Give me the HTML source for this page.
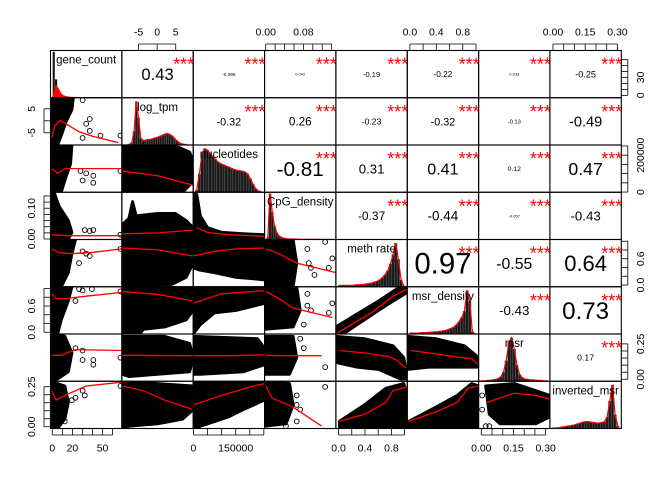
<!DOCTYPE html>
<html><head><meta charset="utf-8">
<style>
html,body{margin:0;padding:0;background:#fff;}
svg{display:block;font-family:"Liberation Sans",Arial,sans-serif;}
</style></head>
<body>
<svg id="chart" width="672" height="480" viewBox="0 0 672 480" xmlns="http://www.w3.org/2000/svg"></svg>
<script>
const vars = ['gene_count','log_tpm','nucleotides','CpG_density','meth rate','msr_density','msr','inverted_msr'];
const corrText = [
 ['0.43','-0.096','0.042','-0.19','-0.22','0.033','-0.25'],
 ['-0.32','0.26','-0.23','-0.32','-0.13','-0.49'],
 ['-0.81','0.31','0.41','0.12','0.47'],
 ['-0.37','-0.44','-0.057','-0.43'],
 ['0.97','-0.55','0.64'],
 ['-0.43','0.73'],
 ['0.17']
];
const xDomain = [[-1.8,69.2],[-9.5,9.7],[-1000,252500],[-0.0025,0.149],[-0.04,1.04],[-0.04,1.04],[-0.0126,0.32],[-0.014,0.318]];
const yDomain = [[-4,75],[-10.1,9.6],[-1000,255000],[-0.0016,0.152],[-0.04,1.04],[-0.04,1.04],[-0.014,0.32],[-0.011,0.284]];
const hist = [
 [1,0.4,0.15,0.07,0.04,0.025,0.015,0.01,0.01,0.008,0.006,0.005,0.004,0.004,0.003,0.003,0.002,0.002,0.002,0.002,0.001,0.001,0.001,0.001,0.001,0.001,0.001,0.001,0.001,0.001],
 [0,0,0.02,0.05,0.3,0.95,0.6,0.15,0.1,0.1,0.12,0.12,0.13,0.15,0.16,0.18,0.2,0.22,0.24,0.25,0.23,0.2,0.15,0.1,0.06,0.03,0.02,0.01,0,0],
 [0.05,0.4,0.85,0.95,0.92,0.85,0.78,0.72,0.66,0.62,0.6,0.57,0.55,0.52,0.5,0.48,0.47,0.46,0.44,0.4,0.3,0.18,0.08,0.03,0.01],
 [0.05,1.0,0.6,0.3,0.15,0.08,0.05,0.03,0.02,0.015,0.012,0.01,0.01,0.008,0.006,0.005,0.005,0.004,0.004,0.003,0.003,0.002,0.002,0.002,0.001,0.001,0.001,0.001,0.001,0.001],
 [0.03,0.03,0.03,0.03,0.03,0.03,0.04,0.04,0.05,0.05,0.06,0.07,0.08,0.1,0.12,0.15,0.2,0.26,0.35,0.5,0.7,0.95,0.6,0.15,0.02],
 [0.02,0.02,0.02,0.02,0.03,0.03,0.03,0.04,0.04,0.05,0.05,0.06,0.07,0.08,0.1,0.12,0.15,0.2,0.27,0.36,0.5,0.95,0.7,0.05,0],
 [0.01,0.01,0.02,0.02,0.03,0.04,0.06,0.1,0.2,0.45,0.85,0.95,0.7,0.35,0.15,0.08,0.05,0.04,0.03,0.03,0.02,0.02,0.02,0.01,0.01],
 [0.01,0.01,0.02,0.03,0.04,0.05,0.06,0.07,0.08,0.1,0.12,0.14,0.15,0.15,0.14,0.13,0.12,0.12,0.13,0.15,0.25,0.6,0.95,0.3,0.05]
];
const geneDensity = [0.1,0.25,0.2,0.1,0.05,0.03,0.02,0.01,0.01,0.005,0.005,0.004,0.003,0.003,0.002,0.002,0.002,0.001,0.001,0.001,0.001,0.001,0.001,0.001,0.001,0.001,0.001,0.001,0.001,0.001];
const blobs = {
 '1-0':[[0,0],[0.32,0],[0.3,0.25],[0.22,0.5],[0.15,0.8],[0.1,1],[0,1]],
 '2-0':[[0,0],[0.3,0],[0.28,0.4],[0.2,0.75],[0.15,1],[0,1]],
 '2-1':[[0,0],[0.55,0],[0.8,0.05],[0.95,0.15],[1,0.35],[0.98,0.8],[0.85,1],[0,1]],
 '3-0':[[0,0],[0.05,0],[0.12,0.3],[0.25,0.6],[0.3,0.85],[0.25,1],[0,1]],
 '3-1':[[0,1],[0,0.7],[0.1,0.55],[0.15,0.2],[0.2,0.5],[0.5,0.45],[0.75,0.45],[0.9,0.6],[1,0.75],[1,1]],
 '3-2':[[0,1],[0,0],[0.05,0.05],[0.1,0.5],[0.2,0.75],[0.4,0.85],[0.7,0.88],[1,0.9],[1,1]],
 '4-0':[[0,0],[0.35,0],[0.3,0.3],[0.25,0.7],[0.15,1],[0,1]],
 '4-1':[[0,0],[1,0],[1,0.5],[0.9,0.8],[0.7,0.95],[0,1]],
 '4-2':[[0,0],[1,0],[1,0.85],[0.6,0.8],[0.3,0.7],[0.1,0.65],[0,0.6]],
 '4-3':[[0,0],[0.4,0],[0.45,0.5],[0.4,1],[0,1]],
 '5-0':[[0,0],[0.3,0],[0.25,0.3],[0.15,0.7],[0.1,1],[0,1]],
 '5-1':[[0,0],[1,0],[1,0.5],[0.9,0.7],[0.6,0.85],[0.3,0.9],[0.25,1],[0,1]],
 '5-2':[[0,0],[1,0],[1,0.35],[0.6,0.5],[0.3,0.55],[0.1,0.8],[0,1]],
 '5-3':[[0,0],[0.45,0],[0.5,0.5],[0.4,0.85],[0,0.9]],
 '5-4':[[0,1],[0,0.85],[0.6,0.3],[0.85,0.05],[1,0],[1,0.12],[0.7,0.4],[0.2,0.9],[0.1,1]],
 '6-0':[[0,0],[0.2,0.05],[0.3,0.4],[0.25,0.8],[0.1,0.95],[0,1]],
 '6-1':[[0,0.05],[0.6,0.05],[0.95,0.2],[1,0.5],[0.95,0.8],[0.5,0.85],[0.1,0.9],[0,0.85]],
 '6-2':[[0,0.05],[0.9,0.1],[1,0.3],[1,0.65],[0.7,0.8],[0.1,0.85],[0,0.85]],
 '6-3':[[0,0.05],[0.4,0.05],[0.45,0.5],[0.35,0.85],[0,0.85]],
 '6-4':[[0,0.05],[0.4,0.1],[0.8,0.25],[0.95,0.5],[1,0.95],[0.9,0.95],[0.6,0.75],[0.3,0.7],[0,0.6]],
 '6-5':[[0,0.05],[0.4,0.1],[0.8,0.25],[1,0.5],[1,0.7],[0.7,0.7],[0.3,0.7],[0,0.75]],
 '7-0':[[0,0],[0.2,0.1],[0.25,0.45],[0.2,0.8],[0.1,1],[0,1]],
 '7-1':[[0,0],[1,0.1],[1,0.6],[0.85,0.8],[0.5,0.9],[0.1,0.95],[0,1]],
 '7-2':[[0,0],[1,0],[1,0.4],[0.7,0.6],[0.5,0.75],[0.2,0.9],[0,1]],
 '7-3':[[0,0],[0.35,0.05],[0.4,0.5],[0.3,0.9],[0,0.95]],
 '7-4':[[0.05,1],[0.05,0.85],[0.4,0.5],[0.7,0.15],[0.95,0.05],[1,0.3],[1,1]],
 '7-5':[[0.02,1],[0.02,0.85],[0.4,0.55],[0.7,0.3],[0.9,0.05],[1,0.1],[1,1]],
 '7-6':[[0.1,0.1],[0.5,0.05],[1,0.3],[1,0.75],[0.8,0.9],[0.3,0.9],[0.15,0.7]]
};
const outliers = {
 '1-0':[[0.45,0.05],[0.55,0.45],[0.5,0.55],[0.55,0.7],[0.7,0.8],[0.45,0.85],[0.98,0.8]],
 '2-0':[[0.42,0.55],[0.5,0.6],[0.45,0.75],[0.6,0.65],[0.6,0.8],[0.98,0.55]],
 '3-0':[[0.48,0.8],[0.55,0.82],[0.6,0.8],[0.98,0.9]],
 '4-0':[[0.45,0.25],[0.5,0.3],[0.55,0.35],[0.4,0.5],[0.98,0.2]],
 '4-3':[[0.6,0.2],[0.62,0.5],[0.65,0.6],[0.85,0.05],[0.95,0.4],[0.9,0.6],[0.7,0.75]],
 '5-0':[[0.4,0.05],[0.45,0.08],[0.58,0.05],[0.35,0.3],[0.98,0.1]],
 '5-3':[[0.6,0.15],[0.6,0.4],[0.65,0.5],[0.95,0.35],[0.9,0.55],[0.55,0.8]],
 '6-0':[[0.35,0.3],[0.45,0.35],[0.45,0.55],[0.6,0.55],[0.6,0.65],[0.98,0.5]],
 '6-3':[[0.5,0.1],[0.55,0.3],[0.85,0.7]],
 '7-0':[[0.3,0.4],[0.35,0.35],[0.45,0.2],[0.48,0.3],[0.98,0.1],[0.2,0.85]],
 '7-3':[[0.45,0.3],[0.45,0.5],[0.5,0.6],[0.45,0.85],[0.85,0.12],[0.3,0.95]],
 '7-6':[[0.1,0.95],[0.15,0.95],[0.05,0.6],[0.05,0.3]]
};
const curves = {
 '1-0':[[0.02,0.85],[0.06,0.6],[0.13,0.48],[0.25,0.58],[0.4,0.72],[0.6,0.82],[0.95,0.95]],
 '2-0':[[0.02,0.5],[0.1,0.6],[0.2,0.5],[0.4,0.5],[1,0.5]],
 '2-1':[[0,0.55],[0.5,0.65],[1,0.85]],
 '3-0':[[0.02,0.9],[0.3,0.92],[1,0.92]],
 '3-1':[[0,0.88],[0.5,0.86],[1,0.8]],
 '3-2':[[0.05,0.75],[0.2,0.85],[0.5,0.9],[1,0.93]],
 '4-0':[[0.02,0.2],[0.12,0.28],[0.3,0.3],[0.6,0.27],[1,0.2]],
 '4-1':[[0,0.18],[0.5,0.22],[1,0.35]],
 '4-2':[[0,0.35],[0.3,0.25],[0.6,0.2],[1,0.18]],
 '4-3':[[0.02,0.2],[0.2,0.3],[0.45,0.5],[1,0.7]],
 '5-0':[[0.02,0.15],[0.08,0.25],[0.2,0.25],[0.5,0.2],[1,0.12]],
 '5-1':[[0,0.1],[0.5,0.16],[1,0.3]],
 '5-2':[[0,0.35],[0.4,0.15],[1,0.08]],
 '5-3':[[0.02,0.1],[0.2,0.25],[0.4,0.45],[0.95,0.65]],
 '5-4':[[0.02,0.98],[0.5,0.55],[0.8,0.2],[1,0.05]],
 '6-0':[[0.02,0.45],[0.15,0.45],[0.35,0.33],[1,0.35]],
 '6-1':[[0,0.45],[1,0.46]],
 '6-2':[[0,0.46],[0.5,0.46],[1,0.44]],
 '6-3':[[0.02,0.45],[0.3,0.46],[0.8,0.46]],
 '6-4':[[0.05,0.35],[0.4,0.4],[0.75,0.48],[0.85,0.55],[0.98,0.72]],
 '6-5':[[0.05,0.35],[0.4,0.42],[0.75,0.5],[0.9,0.52],[1,0.65]],
 '7-0':[[0.02,0.2],[0.08,0.4],[0.2,0.3],[0.5,0.1],[1,0.02]],
 '7-1':[[0,0.1],[0.3,0.2],[0.6,0.4],[1,0.6]],
 '7-2':[[0,0.5],[0.4,0.3],[0.8,0.12],[1,0.05]],
 '7-3':[[0.02,0.1],[0.1,0.35],[0.4,0.55],[0.8,0.95]],
 '7-4':[[0.05,0.85],[0.4,0.7],[0.7,0.45],[0.8,0.2],[1,0.12]],
 '7-5':[[0.02,0.85],[0.4,0.65],[0.7,0.45],[0.85,0.15],[1,0.1]],
 '7-6':[[0.12,0.45],[0.5,0.25],[0.8,0.3],[1,0.38]]
};
const topAxes = [
 {col:1, ticks:[-5,0,5], labels:['-5','0','5'], at:[-5,0,5]},
 {col:3, ticks:[0,0.02,0.04,0.06,0.08,0.1,0.12,0.14], labels:['0.00','0.08'], at:[0,0.08]},
 {col:5, ticks:[0,0.2,0.4,0.6,0.8,1], labels:['0.0','0.4','0.8'], at:[0,0.4,0.8]},
 {col:7, ticks:[0,0.05,0.1,0.15,0.2,0.25,0.3], labels:['0.00','0.15','0.30'], at:[0,0.15,0.3]}
];
const bottomAxes = [
 {col:0, ticks:[0,10,20,30,40,50,60], labels:['0','20','50'], at:[0,20,50]},
 {col:2, ticks:[0,50000,100000,150000,200000,250000], labels:['0','150000'], at:[0,150000]},
 {col:4, ticks:[0,0.2,0.4,0.6,0.8,1], labels:['0.0','0.4','0.8'], at:[0,0.4,0.8]},
 {col:6, ticks:[0,0.05,0.1,0.15,0.2,0.25,0.3], labels:['0.00','0.15','0.30'], at:[0,0.15,0.3]}
];
const leftAxes = [
 {row:1, ticks:[-5,0,5], labels:['-5','5'], at:[-5,5]},
 {row:3, ticks:[0,0.02,0.04,0.06,0.08,0.1,0.12,0.14], labels:['0.00','0.10'], at:[0,0.1]},
 {row:5, ticks:[0,0.2,0.4,0.6,0.8,1], labels:['0.0','0.6'], at:[0,0.6]},
 {row:7, ticks:[0,0.05,0.1,0.15,0.2,0.25], labels:['0.00','0.25'], at:[0,0.25]}
];
const rightAxes = [
 {row:0, ticks:[0,10,20,30,40,50,60], labels:['0','30'], at:[0,30]},
 {row:2, ticks:[0,50000,100000,150000,200000,250000], labels:['0','200000'], at:[0,200000]},
 {row:4, ticks:[0,0.2,0.4,0.6,0.8,1], labels:['0.0','0.6'], at:[0,0.6]},
 {row:6, ticks:[0,0.05,0.1,0.15,0.2,0.25], labels:['0.00','0.25'], at:[0,0.25]}
];

const NS='http://www.w3.org/2000/svg';
const svg=document.getElementById('chart');
const X0=50.5, CW=71.35, Y0=50.5, RH=47.25, N=8;
function mk(tag, attrs, parent){const e=document.createElementNS(NS,tag);for(const k in attrs)e.setAttribute(k,attrs[k]);(parent||svg).appendChild(e);return e;}
function xs(col,v){const d=xDomain[col];return X0+col*CW+CW*(v-d[0])/(d[1]-d[0]);}
function ys(row,v){const d=yDomain[row];return Y0+(row+1)*RH-RH*(v-d[0])/(d[1]-d[0]);}
function pu(col,u){return X0+col*CW+u*CW;}
function pv(row,v){return Y0+row*RH+v*RH;}

const defs=mk('defs',{});
for(let i=0;i<N;i++)for(let j=0;j<N;j++){
  const cp=mk('clipPath',{id:'c'+i+'-'+j},defs);
  mk('rect',{x:pu(j,0),y:pv(i,0),width:CW,height:RH},cp);
}

for(const key in blobs){
  const [i,j]=key.split('-').map(Number);
  const g=mk('g',{'clip-path':'url(#c'+key+')'});
  
  
  const pts=blobs[key].map(p=>pu(j,p[0]).toFixed(1)+','+pv(i,p[1]).toFixed(1)).join(' ');
  const blob=mk('polygon',{points:pts,fill:'#000',stroke:'#000','stroke-width':3,'stroke-linejoin':'round'},g);
  
  
  (outliers[key]||[]).forEach(p=>{
    const c=mk('circle',{cx:pu(j,p[0]),cy:pv(i,p[1]),r:2.4,fill:'none',stroke:'#000','stroke-width':0.9},g);
    
    
  });
  const cpts=curves[key].map(p=>pu(j,p[0]).toFixed(1)+','+pv(i,p[1]).toFixed(1)).join(' ');
  const l=mk('polyline',{points:cpts,fill:'none',stroke:'#ff0000','stroke-width':1.3},g);
  
  
}

for(let k=0;k<N;k++){
  const g=mk('g',{'clip-path':'url(#c'+k+'-'+k+')'});
  
  
  const h=hist[k], nb=h.length, left=pu(k,0.03), w=(CW*0.94)/nb, base=pv(k,1);
  h.forEach((v,b)=>{
    const bh=v*RH*0.97;
    const r=mk('rect',{x:left+b*w,y:base-bh,width:w,height:bh,fill:'#1a1a1a',stroke:'#777','stroke-width':0.3},g);
    
    
  });
  const dens=k===0?geneDensity:h;
  const dpts=dens.map((v,b)=>(left+(b+0.5)*w).toFixed(1)+','+(base-v*RH*0.97).toFixed(1));
  dpts.unshift(left.toFixed(1)+','+base);dpts.push((left+nb*w).toFixed(1)+','+base);
  const dl=mk('polyline',{points:dpts.join(' '),fill:k===0?'#ff0000':'none',stroke:'#ff0000','stroke-width':1.2},g);
  
  
  const t=mk('text',{x:pu(k,0.5),y:pv(k,0)+13,'text-anchor':'middle','font-size':11.5,fill:'#000'});
  t.textContent=vars[k];
  
  
}

for(let i=0;i<N-1;i++)for(let jj=0;jj<corrText[i].length;jj++){
  const j=i+1+jj, s=corrText[i][jj], r=Math.abs(parseFloat(s));
  let fs=30*Math.pow(r,0.7)*(s.length>=5?0.8:1);
  if(fs<4)fs=4;
  const t=mk('text',{x:pu(j,0.5),y:pv(i,0.5)+fs*0.36,'text-anchor':'middle','font-size':fs.toFixed(1),fill:'#000'});
  t.textContent=s;
  
  
  const st=mk('text',{x:pu(j,1)+1,y:pv(i,0)+20,'text-anchor':'end','font-size':18,fill:'#ff0000'});
  st.textContent='***';
  
  
}

for(let i=0;i<N;i++)for(let j=0;j<N;j++){
  const b=mk('rect',{x:pu(j,0),y:pv(i,0),width:CW,height:RH,fill:'none',stroke:'#000','stroke-width':1.1});
  
  
}

const TL=6.5, FS=10.5;
topAxes.forEach(a=>{
  const g=mk('g',{});
  
  
  const x1=xs(a.col,a.ticks[0]),x2=xs(a.col,a.ticks[a.ticks.length-1]);
  mk('line',{x1:x1,x2:x2,y1:Y0-TL,y2:Y0-TL,stroke:'#000','stroke-width':0.8},g);
  a.ticks.forEach(v=>mk('line',{x1:xs(a.col,v),x2:xs(a.col,v),y1:Y0-TL,y2:Y0,stroke:'#000','stroke-width':0.8},g));
  a.labels.forEach((l,k)=>{const t=mk('text',{x:xs(a.col,a.at[k]),y:Y0-15,'text-anchor':'middle','font-size':FS},g);t.textContent=l;});
});
const YB=Y0+N*RH;
bottomAxes.forEach(a=>{
  const g=mk('g',{});
  
  
  const x1=xs(a.col,a.ticks[0]),x2=xs(a.col,a.ticks[a.ticks.length-1]);
  mk('line',{x1:x1,x2:x2,y1:YB+TL,y2:YB+TL,stroke:'#000','stroke-width':0.8},g);
  a.ticks.forEach(v=>mk('line',{x1:xs(a.col,v),x2:xs(a.col,v),y1:YB,y2:YB+TL,stroke:'#000','stroke-width':0.8},g));
  a.labels.forEach((l,k)=>{const t=mk('text',{x:xs(a.col,a.at[k]),y:YB+23,'text-anchor':'middle','font-size':FS},g);t.textContent=l;});
});
leftAxes.forEach(a=>{
  const g=mk('g',{});
  
  
  const y1=ys(a.row,a.ticks[0]),y2=ys(a.row,a.ticks[a.ticks.length-1]);
  mk('line',{x1:X0-TL,x2:X0-TL,y1:y1,y2:y2,stroke:'#000','stroke-width':0.8},g);
  a.ticks.forEach(v=>mk('line',{x1:X0-TL,x2:X0,y1:ys(a.row,v),y2:ys(a.row,v),stroke:'#000','stroke-width':0.8},g));
  a.labels.forEach((l,k)=>{const y=ys(a.row,a.at[k]);const t=mk('text',{x:35,y:y,'text-anchor':'middle','font-size':FS,transform:'rotate(-90 35 '+y+')'},g);t.textContent=l;});
});
const XR=X0+N*CW;
rightAxes.forEach(a=>{
  const g=mk('g',{});
  
  
  const y1=ys(a.row,a.ticks[0]),y2=ys(a.row,a.ticks[a.ticks.length-1]);
  mk('line',{x1:XR+TL,x2:XR+TL,y1:y1,y2:y2,stroke:'#000','stroke-width':0.8},g);
  a.ticks.forEach(v=>mk('line',{x1:XR,x2:XR+TL,y1:ys(a.row,v),y2:ys(a.row,v),stroke:'#000','stroke-width':0.8},g));
  a.labels.forEach((l,k)=>{const y=ys(a.row,a.at[k]);const t=mk('text',{x:644,y:y,'text-anchor':'middle','font-size':FS,transform:'rotate(-90 644 '+y+')'},g);t.textContent=l;});
});
</script>
</body></html>
